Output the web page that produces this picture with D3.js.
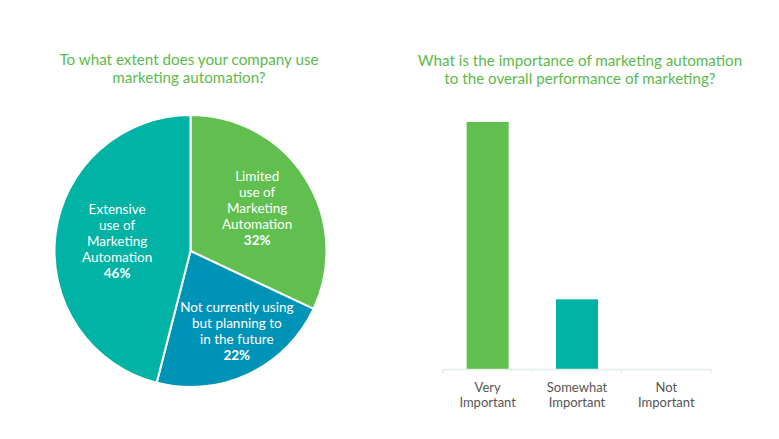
<!DOCTYPE html>
<html><head><meta charset="utf-8">
<script src="https://cdn.jsdelivr.net/npm/d3@7"></script>
<style>
html,body{margin:0;padding:0;background:#fff;}
svg{display:block;font-family:Lato, "Open Sans", sans-serif;}
</style></head>
<body>
<svg id="c" width="779" height="439"></svg>
<script>
// ---- data ----
const pieTitle = ["To what extent does your company use", "marketing automation?"];
const pieLabels = [
  ["Limited", "use of", "Marketing", "Automation"],
  ["Not currently using", "but planning to", "in the future"],
  ["Extensive", "use of", "Marketing", "Automation"]
];
const pieValues = [32, 22, 46];
const pieColors = ["#60bf4f", "#0093b8", "#00b3a5"];

const barTitle = ["What is the importance of marketing automation", "to the overall performance of marketing?"];
const barCategories = [["Very", "Important"], ["Somewhat", "Important"], ["Not", "Important"]];
const barValues = [78, 22, 0];
const barColors = ["#60bf4f", "#00b3a5", "#0093b8"];

const titleColor = "#5cba4b";
const svg = d3.select("#c");

// ---- pie ----
const cx = 190.5, cy = 251, R = 136;
const gPie = svg.append("g").attr("transform", `translate(${cx},${cy})`);
const pie = d3.pie().sort(null).value(d => d)(pieValues);
const arc = d3.arc().innerRadius(0).outerRadius(R);
gPie.selectAll("path").data(pie).join("path")
  .attr("d", arc)
  .attr("fill", (d, i) => pieColors[i])
  .attr("stroke", "#fff").attr("stroke-width", 2);

const labelR = [79, 90, 75];
const labelDx = [0, 8, 1];
const lh = 16;
pie.forEach((d, i) => {
  const a = (d.startAngle + d.endAngle) / 2;
  const x = Math.sin(a) * labelR[i] + labelDx[i];
  const y = -Math.cos(a) * labelR[i];
  const lines = pieLabels[i];
  const n = lines.length + 1;
  const t = gPie.append("text").attr("text-anchor", "middle").attr("fill", "#fff")
    .attr("font-size", 13.5);
  const y0 = y - (n - 1) * lh / 2 + 4;
  lines.forEach((s, k) => t.append("tspan").attr("x", x).attr("y", y0 + k * lh).text(s));
  t.append("tspan").attr("x", x).attr("y", y0 + lines.length * lh)
    .attr("font-weight", "bold").text(pieValues[i] + "%");
});

svg.append("text").attr("text-anchor", "middle").attr("fill", titleColor).attr("font-size", 15.2)
  .selectAll("tspan").data(pieTitle).join("tspan")
  .attr("x", 189).attr("y", (d, i) => 65 + i * 18).text(d => d);

// ---- bars ----
const x = d3.scaleBand().domain(d3.range(barValues.length)).range([443, 711]).paddingInner(0.53).paddingOuter(0.265);
const y = d3.scaleLinear().domain([0, 100]).range([369, 52.3]);

svg.append("text").attr("text-anchor", "middle").attr("fill", titleColor).attr("font-size", 15.2)
  .selectAll("tspan").data(barTitle).join("tspan")
  .attr("x", 580).attr("y", (d, i) => 66 + i * 18).text(d => d);

svg.selectAll("rect.bar").data(barValues).join("rect").attr("class", "bar")
  .attr("x", (d, i) => x(i)).attr("width", x.bandwidth())
  .attr("y", d => y(d)).attr("height", d => y(0) - y(d))
  .attr("fill", (d, i) => barColors[i]);

const axis = d3.axisBottom(x).tickSize(0).tickFormat("");
const gAx = svg.append("g").attr("transform", `translate(0,${y(0)})`).call(axis);
gAx.select(".domain").attr("stroke", "#e2ede2").attr("stroke-width", 1.5);
const bounds = d3.range(barValues.length + 1).map(i => 443 + i * (711 - 443) / barValues.length);
gAx.selectAll("line.sep").data(bounds).join("line").attr("class", "sep")
  .attr("x1", d => d).attr("x2", d => d).attr("y1", 0).attr("y2", 4)
  .attr("stroke", "#e2ede2").attr("stroke-width", 1.2);

barCategories.forEach((lines, i) => {
  const t = svg.append("text").attr("text-anchor", "middle").attr("fill", "#555").attr("font-size", 13);
  lines.forEach((s, k) => t.append("tspan")
    .attr("x", x(i) + x.bandwidth() / 2).attr("y", 391.5 + k * 15.5).text(s));
});
</script>
</body></html>
